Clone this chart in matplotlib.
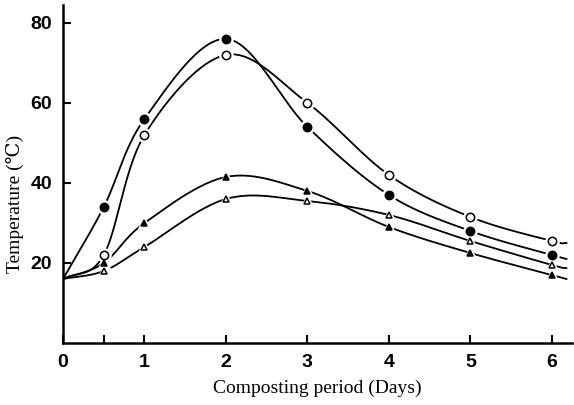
import numpy as np
import matplotlib
matplotlib.use('Agg')
from matplotlib import pyplot as plt

days = [0, 0.5, 1, 2, 3, 4, 5, 6]
filled_circle = [16, 34, 56, 76, 54, 37, 28, 22]
open_circle = [16, 22, 52, 72, 60, 42, 31.5, 25.5]
filled_tri = [16, 20, 30, 41.5, 38, 29, 22.5, 17]
open_tri = [16, 18, 24, 36, 35.5, 32, 25.5, 19.5]

# where each drawn curve stops, to the right of day 6
end_day = 6.18
end_vals = {'fc': 21, 'oc': 25, 'ft': 16, 'ot': 18.7}

x_ticks = [0, 1, 2, 3, 4, 5, 6]
x_minor = [0.5]
y_ticks = [20, 40, 60, 80]


def smooth(x, y, n=30):
    # catmull-rom through the points, just for drawing
    x = np.asarray(x, float)
    y = np.asarray(y, float)
    px = np.concatenate([[2 * x[0] - x[1]], x, [2 * x[-1] - x[-2]]])
    py = np.concatenate([[2 * y[0] - y[1]], y, [2 * y[-1] - y[-2]]])
    xs, ys = [], []
    t = np.linspace(0, 1, n)
    for i in range(1, len(px) - 2):
        for p, out in ((px, xs), (py, ys)):
            p0, p1, p2, p3 = p[i - 1], p[i], p[i + 1], p[i + 2]
            out.append(0.5 * (2 * p1 + (-p0 + p2) * t
                              + (2 * p0 - 5 * p1 + 4 * p2 - p3) * t ** 2
                              + (-p0 + 3 * p1 - 3 * p2 + p3) * t ** 3))
    return np.concatenate(xs), np.concatenate(ys)


fig = plt.figure(figsize=(5.74, 4.05), dpi=100)
ax = fig.add_axes([0.1098, 0.153, 0.887, 0.835])

series = [
    (filled_circle, 'fc', 'o', 'black', 6),
    (open_circle, 'oc', 'o', 'white', 6),
    (filled_tri, 'ft', '^', 'black', 4.5),
    (open_tri, 'ot', '^', 'white', 4.5),
]

for vals, key, mk, face, ms in series:
    sx, sy = smooth(days + [end_day], vals + [end_vals[key]])
    ax.plot(sx, sy, color='black', lw=1.3, zorder=2)
    ax.plot(days[1:], vals[1:], ls='none', marker=mk, ms=ms + 3.5,
            mfc='white', mec='white', zorder=3)
    ax.plot(days[1:], vals[1:], ls='none', marker=mk, ms=ms,
            mfc=face, mec='black', mew=1.1, zorder=4)

ax.set_xlim(0, 6.25)
ax.set_ylim(0, 84.5)
ax.spines['top'].set_visible(False)
ax.spines['right'].set_visible(False)
ax.spines['left'].set_linewidth(1.8)
ax.spines['bottom'].set_linewidth(1.8)

ax.set_xticks(x_ticks)
ax.set_xticks(x_minor, minor=True)
ax.set_yticks(y_ticks)
ax.tick_params(which='both', direction='in', length=6, width=1.5, pad=8)
for lab in ax.get_xticklabels() + ax.get_yticklabels():
    lab.set_fontfamily('Liberation Sans')
    lab.set_fontweight('bold')
    lab.set_fontsize(14)

serif = ['Liberation Serif', 'DejaVu Serif', 'DejaVu Sans']
ax.set_xlabel('Composting period (Days)', fontsize=14, family=serif,
              labelpad=6)
ax.set_ylabel('Temperature (℃)', fontsize=14, family=serif)
ax.yaxis.set_label_coords(-0.077, 0.41)

fig.savefig('out.png', dpi=100)
